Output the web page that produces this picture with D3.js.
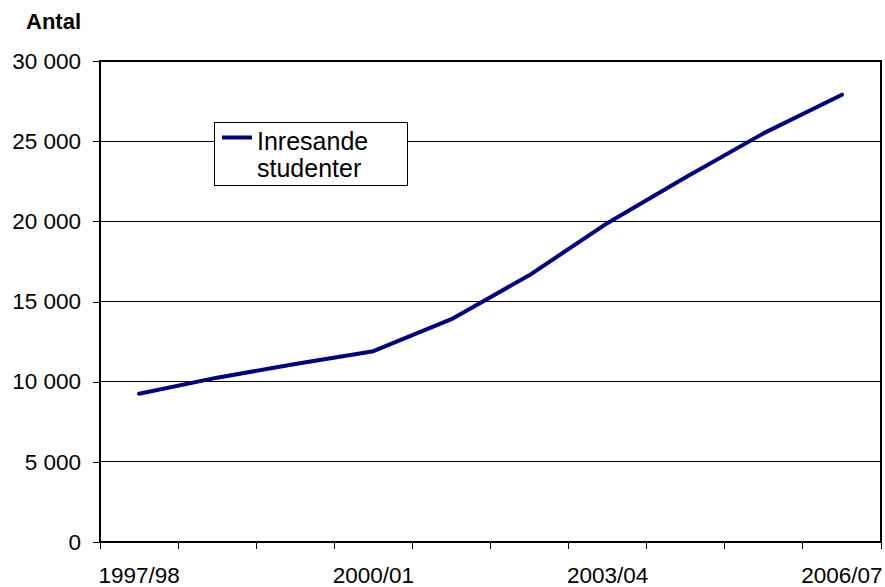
<!DOCTYPE html>
<html>
<head>
<meta charset="utf-8">
<script src="https://cdn.jsdelivr.net/npm/d3@7"></script>
<style>
  body { margin: 0; background: #fff; }
  svg text { font-family: "Liberation Sans", Arial, sans-serif; }
</style>
</head>
<body>
<div id="chart"></div>
<script>
// läsåren
var years = ["1997/98", "1998/99", "1999/00", "2000/01", "2001/02",
             "2002/03", "2003/04", "2004/05", "2005/06", "2006/07"];
// inresande studenter, antal
var inresande = [9250, 10250, 11100, 11900, 13900, 16650, 19900, 22750, 25500, 27900];
var yTicks = [0, 5000, 10000, 15000, 20000, 25000, 30000];
var shownLabels = ["1997/98", "2000/01", "2003/04", "2006/07"];
var seriesName = ["Inresande", "studenter"];

var W = 885, H = 587;
var margin = {top: 61, right: 4, bottom: 45, left: 100};
var width = W - margin.left - margin.right,
    height = H - margin.top - margin.bottom;

var fmt = function(d) { return d3.format(",")(d).replace(/,/g, " "); };

var x = d3.scaleBand().domain(years).range([0, width]).padding(0);
var y = d3.scaleLinear().domain([0, 30000]).range([height, 0]);

var svg = d3.select("#chart").append("svg")
    .attr("width", W)
    .attr("height", H);

var g = svg.append("g")
    .attr("transform", "translate(" + margin.left + "," + margin.top + ")");

// gridlines
g.selectAll(".grid")
    .data(yTicks)
  .enter().append("line")
    .attr("class", "grid")
    .attr("x1", 0).attr("x2", width)
    .attr("y1", function(d) { return y(d); })
    .attr("y2", function(d) { return y(d); })
    .attr("stroke", "#000")
    .attr("stroke-width", 1)
    .attr("shape-rendering", "crispEdges");

// plot border
g.append("rect")
    .attr("x", 0).attr("y", 0)
    .attr("width", width).attr("height", height)
    .attr("fill", "none")
    .attr("stroke", "#000")
    .attr("stroke-width", 1.3)
    .attr("shape-rendering", "crispEdges");

// y axis
var yAxis = d3.axisLeft(y).tickValues(yTicks).tickSize(7).tickPadding(12).tickFormat(fmt);
var ya = g.append("g").call(yAxis);
ya.select(".domain").remove();
ya.selectAll("line").attr("stroke", "#000").attr("shape-rendering", "crispEdges");
ya.selectAll("text").attr("font-size", "22.5px").attr("fill", "#000");

// x axis: ticks between categories
var edges = years.map(function(d) { return x(d); }).concat([width]);
g.selectAll(".xtick")
    .data(edges)
  .enter().append("line")
    .attr("class", "xtick")
    .attr("x1", function(d) { return d; })
    .attr("x2", function(d) { return d; })
    .attr("y1", height).attr("y2", height + 7)
    .attr("stroke", "#000")
    .attr("shape-rendering", "crispEdges");

g.selectAll(".xlabel")
    .data(shownLabels)
  .enter().append("text")
    .attr("class", "xlabel")
    .attr("x", function(d) { return x(d) + x.bandwidth() / 2; })
    .attr("y", height + 41)
    .attr("text-anchor", "middle")
    .attr("font-size", "22.5px")
    .text(function(d) { return d; });

// y title
svg.append("text")
    .attr("x", 81)
    .attr("y", 29)
    .attr("text-anchor", "end")
    .attr("font-size", "22px")
    .attr("font-weight", "bold")
    .text("Antal");

// line
var line = d3.line()
    .x(function(d, i) { return x(years[i]) + x.bandwidth() / 2; })
    .y(function(d) { return y(d); });

g.append("path")
    .datum(inresande)
    .attr("d", line)
    .attr("fill", "none")
    .attr("stroke", "#000080")
    .attr("stroke-width", 4)
    .attr("stroke-linejoin", "round")
    .attr("stroke-linecap", "round");

// legend
var lg = svg.append("g").attr("transform", "translate(214,122)");
lg.append("rect")
    .attr("width", 193).attr("height", 63)
    .attr("fill", "#fff")
    .attr("stroke", "#000")
    .attr("stroke-width", 1)
    .attr("shape-rendering", "crispEdges");
lg.append("line")
    .attr("x1", 8).attr("x2", 38)
    .attr("y1", 15.5).attr("y2", 15.5)
    .attr("stroke", "#000080")
    .attr("stroke-width", 4);
lg.selectAll(".ltext")
    .data(seriesName)
  .enter().append("text")
    .attr("class", "ltext")
    .attr("x", 43)
    .attr("y", function(d, i) { return 27.5 + i * 27; })
    .attr("font-size", "25px")
    .text(function(d) { return d; });
</script>
</body>
</html>
